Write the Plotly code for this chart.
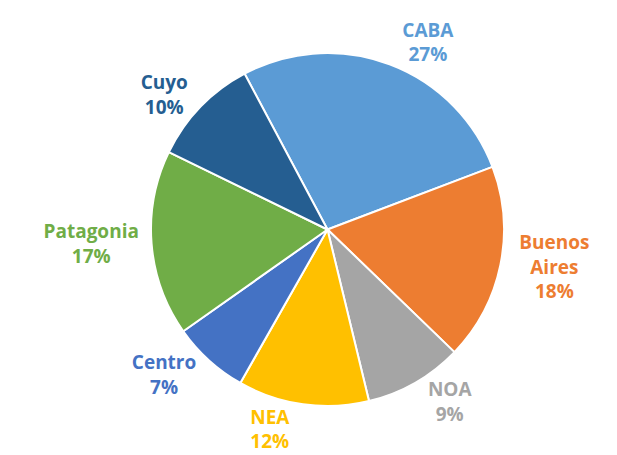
import plotly.graph_objects as go

regions = ["CABA", "Buenos<br>Aires", "NOA", "NEA", "Centro", "Patagonia", "Cuyo"]
shares = [27, 18, 9, 12, 7, 17, 10]
colors = ["#5B9BD5", "#ED7D31", "#A5A5A5", "#FFC000", "#4472C4", "#70AD47", "#255E91"]

fig = go.Figure(go.Pie(
    labels=regions,
    values=shares,
    sort=False,
    direction="clockwise",
    rotation=-28,
    marker=dict(colors=colors, line=dict(color="white", width=2)),
    textposition="outside",
    texttemplate="%{label}<br>%{value}%",
    textfont=dict(family="Open Sans", size=19, color=colors, weight="bold"),
    showlegend=False,
    hoverinfo="label+percent",
))
fig.update_layout(
    width=617, height=455,
    margin=dict(l=25, r=15, t=12, b=24),
    paper_bgcolor="white",
    uniformtext=dict(minsize=1),
)
fig.write_html("out.html")
